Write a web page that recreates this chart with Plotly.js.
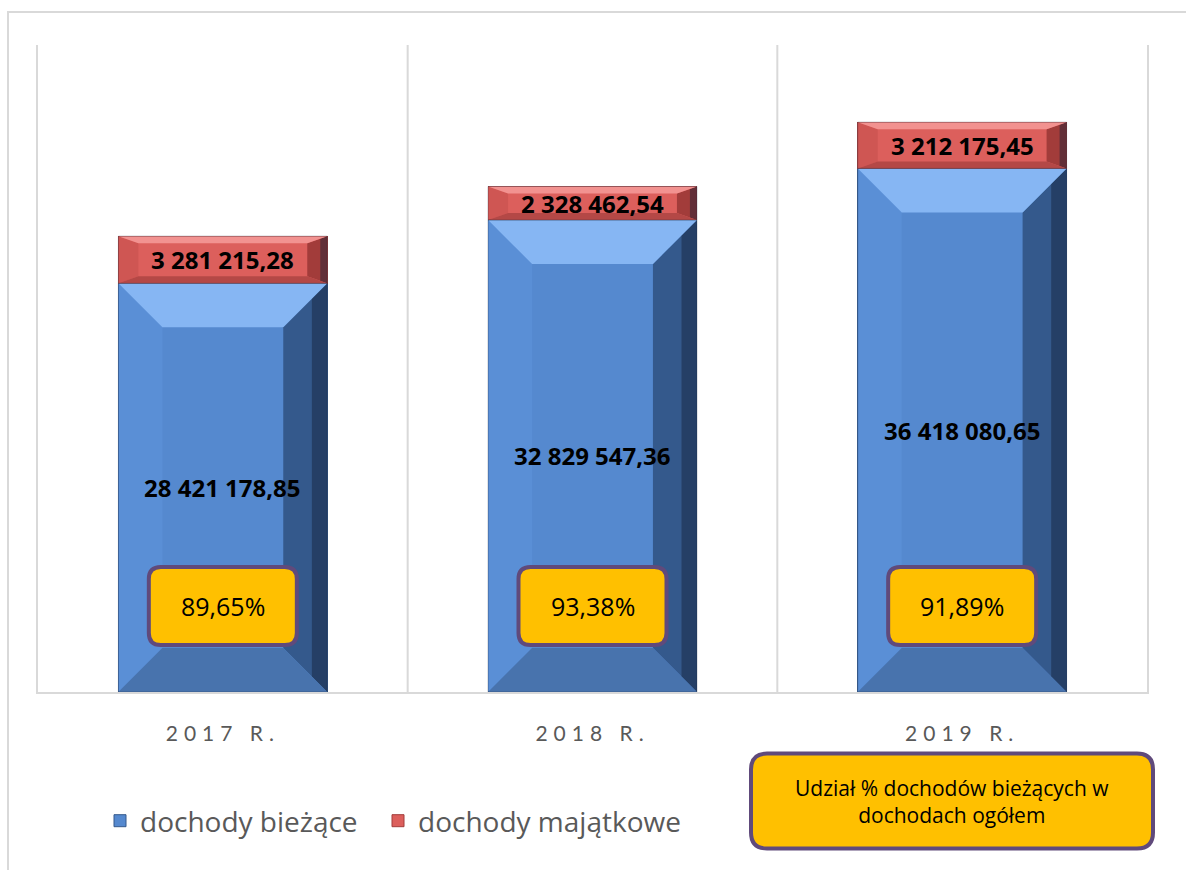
<!DOCTYPE html>
<html>
<head>
<meta charset="utf-8">
<script src="https://cdn.plot.ly/plotly-3.0.1.min.js"></script>
<style>
  html, body { margin: 0; padding: 0; background: #fff; }
  #frame { position: absolute; left: 7px; top: 11px; width: 1300px; height: 1000px;
           border-left: 2px solid #d9d9d9; border-top: 2px solid #d9d9d9; pointer-events: none; z-index: 5; }
  #chart { width: 1186px; height: 870px; }
  .xtick text { letter-spacing: 6px; }
</style>
</head>
<body>
<div id="chart"></div>
<div id="frame"></div>
<script>
// ---- data ----
const categories = ["2017 R.", "2018 R.", "2019 R."];
const dochodyBiezace = [28421178.85, 32829547.36, 36418080.65];
const dochodyMajatkowe = [3281215.28, 2328462.54, 3212175.45];
const udzialProcent = ["89,65%", "93,38%", "91,89%"];
const seriesNames = ["dochody bieżące", "dochody majątkowe"];
const boxText = "Udział % dochodów bieżących w<br>dochodach ogółem";

// ---- layout constants ----
const W = 1186, H = 870;
const M = { l: 38, r: 39, t: 45, b: 178 };
const yMax = 45000000;
const barFrac = 0.565;
const plotW = W - M.l - M.r, plotH = H - M.t - M.b;
const pxX = px => px / (plotW / categories.length);
const pxY = px => px * yMax / plotH;

const blue = { face: "#5589cf", top: "#86b6f3", bottom: "#4873ad", left: "#5a8fd6", right: "#34598c" };
const red  = { face: "#dc5f5c", top: "#f29290", bottom: "#b44846", left: "#cf5653", right: "#a23c3a" };

function fmt(v) {
  const parts = v.toFixed(2).split(".");
  return parts[0].replace(/\B(?=(\d{3})+(?!\d))/g, " ") + "," + parts[1];
}

function bevelShapes(i, y0, y1, bx, by, c) {
  const x0 = i - barFrac / 2, x1 = i + barFrac / 2;
  const ix0 = x0 + bx, ix1 = x1 - bx, iy0 = y0 + by, iy1 = y1 - by;
  const poly = pts => "M" + pts.map(p => p[0] + "," + p[1]).join("L") + "Z";
  const mk = (pts, col) => ({ type: "path", xref: "x", yref: "y", layer: "above",
      path: poly(pts), fillcolor: col, line: { width: 0 } });
  return [
    mk([[x0, y0], [ix0, iy0], [ix0, iy1], [x0, y1]], c.left),
    mk([[x1, y0], [ix1, iy0], [ix1, iy1], [x1, y1]], c.right),
    mk([[x1 - bx * 0.35, y0 + by * 0.35], [x1, y0], [x1, y1], [x1 - bx * 0.35, y1 - by * 0.35]], "rgba(20,30,55,0.45)"),
    mk([[x0, y1], [x1, y1], [ix1, iy1], [ix0, iy1]], c.top),
    mk([[x0, y0], [x1, y0], [ix1, iy0], [ix0, iy0]], c.bottom),
    { type: "rect", xref: "x", yref: "y", layer: "above", x0: x0, x1: x1, y0: y0, y1: y1,
      fillcolor: "rgba(0,0,0,0)", line: { color: "rgba(30,40,60,0.3)", width: 1 } }
  ];
}

function roundRect(w, h, r) {
  const x0 = -w / 2, x1 = w / 2, y0 = -h / 2, y1 = h / 2;
  return `M${x0 + r},${y0} L${x1 - r},${y0} Q${x1},${y0} ${x1},${y0 + r} L${x1},${y1 - r} Q${x1},${y1} ${x1 - r},${y1} ` +
         `L${x0 + r},${y1} Q${x0},${y1} ${x0},${y1 - r} L${x0},${y0 + r} Q${x0},${y0} ${x0 + r},${y0} Z`;
}

const shapes = [];
const annotations = [];
const xIdx = categories.map((c, i) => i);
const boxY = pxY(86);
const labelFont = { family: "'Open Sans', sans-serif", size: 24, color: "#000", weight: "bold" };

categories.forEach((c, i) => {
  const b = dochodyBiezace[i], m = dochodyMajatkowe[i];
  shapes.push(...bevelShapes(i, 0, b, pxX(44), pxY(44), blue));
  shapes.push(...bevelShapes(i, b, b + m, pxX(20), pxY(7), red));
  shapes.push({ type: "path", xref: "x", yref: "y", xsizemode: "pixel", ysizemode: "pixel",
    xanchor: i, yanchor: boxY, layer: "above", path: roundRect(148, 78, 12),
    fillcolor: "#ffc000", line: { color: "#604a7b", width: 4 } });
  annotations.push({ x: i, y: boxY, xref: "x", yref: "y", text: udzialProcent[i], showarrow: false,
    xanchor: "center", yanchor: "middle",
    font: { family: "'Open Sans', sans-serif", size: 25, color: "#000" } });
  annotations.push({ x: i, y: b / 2, xref: "x", yref: "y", text: fmt(b), showarrow: false,
    xanchor: "center", yanchor: "middle", font: labelFont });
  annotations.push({ x: i, y: b + m / 2, xref: "x", yref: "y", text: fmt(m), showarrow: false,
    xanchor: "center", yanchor: "middle", font: labelFont });
});

// legend-like box at bottom right
const boxPX = (952 - M.l) / plotW, boxPY = (692 - 801) / plotH;
shapes.push({ type: "path", xref: "paper", yref: "paper", xsizemode: "pixel", ysizemode: "pixel",
  xanchor: boxPX, yanchor: boxPY, layer: "above", path: roundRect(402, 95, 16),
  fillcolor: "#ffc000", line: { color: "#604a7b", width: 4 } });
annotations.push({ x: boxPX, y: boxPY, xref: "paper", yref: "paper", text: boxText, showarrow: false,
  xanchor: "center", yanchor: "middle",
  font: { family: "'Open Sans', sans-serif", size: 21, color: "#000" }, align: "center" });

const traces = [
  { type: "bar", name: seriesNames[0], x: xIdx, y: dochodyBiezace, width: barFrac, legend: "legend",
    marker: { color: blue.face, line: { width: 1, color: "#34598c" } }, hoverinfo: "none" },
  { type: "bar", name: seriesNames[1], x: xIdx, y: dochodyMajatkowe, width: barFrac, legend: "legend2",
    marker: { color: red.face, line: { width: 1, color: "#a23c3a" } }, hoverinfo: "none" }
];

const legendBase = { orientation: "h", xanchor: "left", y: (692 - 821) / plotH, yanchor: "middle",
  font: { family: "'Open Sans', sans-serif", size: 28, color: "#595959" }, itemwidth: 30,
  bgcolor: "rgba(0,0,0,0)" };

const layout = {
  width: W, height: H, margin: M, barmode: "stack", separators: ", ",
  paper_bgcolor: "#fff", plot_bgcolor: "#fff",
  font: { family: "'Open Sans', sans-serif", color: "#595959" },
  xaxis: { type: "linear", range: [-0.5, 2.5], tickmode: "array", tickvals: xIdx, ticktext: categories,
    showgrid: false, zeroline: false, showline: true, linecolor: "#d9d9d9", linewidth: 2,
    ticks: "", tickfont: { family: "Lato, sans-serif", size: 21, color: "#595959" }, ticklabelstandoff: 22, fixedrange: true },
  yaxis: { range: [0, yMax], showticklabels: false, ticks: "", showgrid: false, zeroline: false,
    showline: true, linecolor: "#d9d9d9", linewidth: 2, mirror: true, fixedrange: true },
  showlegend: true,
  legend: Object.assign({}, legendBase, { x: (100 - M.l) / plotW }),
  legend2: Object.assign({}, legendBase, { x: (378 - M.l) / plotW }),
  shapes: shapes,
  annotations: annotations,
};

// vertical separators at category boundaries
[0.5, 1.5].forEach(v => layout.shapes.unshift({ type: "line", xref: "x", yref: "paper", x0: v, x1: v, y0: 0, y1: 1,
  layer: "below", line: { color: "#d9d9d9", width: 2 } }));

Plotly.newPlot("chart", traces, layout, { displayModeBar: false, staticPlot: true });
</script>
</body>
</html>
